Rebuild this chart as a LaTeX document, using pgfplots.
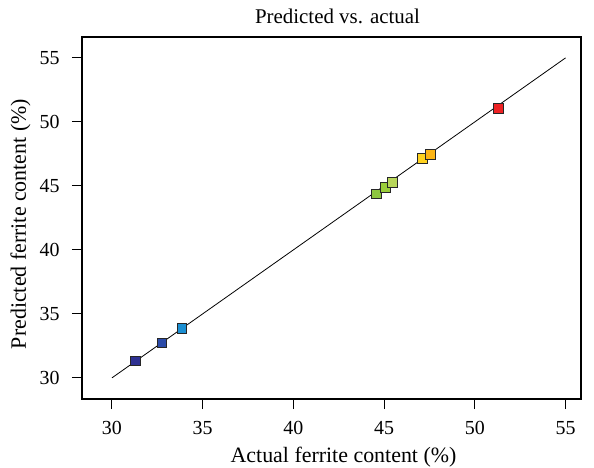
\documentclass[border=0pt]{standalone}
\usepackage{pgfplots}
\pgfplotsset{compat=1.18}
\usepackage{fontspec}
\setmainfont{Liberation Serif}
\definecolor{c1}{HTML}{2E3192}
\definecolor{c2}{HTML}{2B4BA8}
\definecolor{c3}{HTML}{1B8FD2}
\definecolor{c4}{HTML}{8DC63F}
\definecolor{c5}{HTML}{9ACD3A}
\definecolor{c6}{HTML}{B8D65A}
\definecolor{c7}{HTML}{FFD21F}
\definecolor{c8}{HTML}{FDB515}
\definecolor{c9}{HTML}{ED2224}
\begin{document}
\begin{tikzpicture}
\begin{axis}[
  scale only axis, width=499bp, height=362bp,
  clip=false,
  xmin=28.35, xmax=55.85, ymin=28.35, ymax=56.63,
  xtick={30,35,...,55}, ytick={30,35,...,55},
  tick align=outside, tick pos=left,
  major tick length=10bp,
  axis line style={line width=1.1pt},
  tick style={line width=1.1pt, black},
  /pgf/number format/assume math mode=true,
  ticklabel style={font=\fontsize{20}{22}\selectfont},
  title={Predicted vs. actual},
  title style={font=\fontsize{21}{23}\selectfont, at={(0.5,1)}, anchor=base, yshift=8bp, xshift=6bp},
  xlabel={Actual ferrite content (\%)},
  ylabel={Predicted ferrite content (\%)},
  label style={font=\fontsize{22}{24}\selectfont},
  xlabel style={at={(0.5,0)}, anchor=base, yshift=-63bp, xshift=12bp},
  ylabel style={at={(0,0.5)}, anchor=base, yshift=56bp, xshift=-6bp},
  xticklabel style={yshift=-9bp},
  yticklabel style={xshift=-9bp},
]
\coordinate (sw) at (rel axis cs:0,0);
\coordinate (ne) at (rel axis cs:1,1);
\addplot[black, line width=0.8pt] coordinates {(30,30) (55,55)};
\addplot[only marks, mark=square*, mark size=4.9bp, mark options={draw=black!85, line width=1pt, fill=c1}] coordinates {(31.28,31.32)};
\addplot[only marks, mark=square*, mark size=4.9bp, mark options={draw=black!85, line width=1pt, fill=c2}] coordinates {(32.76,32.72)};
\addplot[only marks, mark=square*, mark size=4.9bp, mark options={draw=black!85, line width=1pt, fill=c3}] coordinates {(33.86,33.88)};
\addplot[only marks, mark=square*, mark size=4.9bp, mark options={draw=black!85, line width=1pt, fill=c4}] coordinates {(44.57,44.36)};
\addplot[only marks, mark=square*, mark size=4.9bp, mark options={draw=black!85, line width=1pt, fill=c5}] coordinates {(45.07,44.88)};
\addplot[only marks, mark=square*, mark size=4.9bp, mark options={draw=black!85, line width=1pt, fill=c6}] coordinates {(45.47,45.27)};
\addplot[only marks, mark=square*, mark size=4.9bp, mark options={draw=black!85, line width=1pt, fill=c7}] coordinates {(47.12,47.14)};
\addplot[only marks, mark=square*, mark size=4.9bp, mark options={draw=black!85, line width=1pt, fill=c8}] coordinates {(47.55,47.45)};
\addplot[only marks, mark=square*, mark size=4.9bp, mark options={draw=black!85, line width=1pt, fill=c9}] coordinates {(51.29,51.02)};
\end{axis}
\pgfresetboundingbox
\path[use as bounding box] ([shift={(-82bp,-69bp)}]sw) rectangle ([shift={(13bp,37bp)}]ne);
\end{tikzpicture}
\end{document}
